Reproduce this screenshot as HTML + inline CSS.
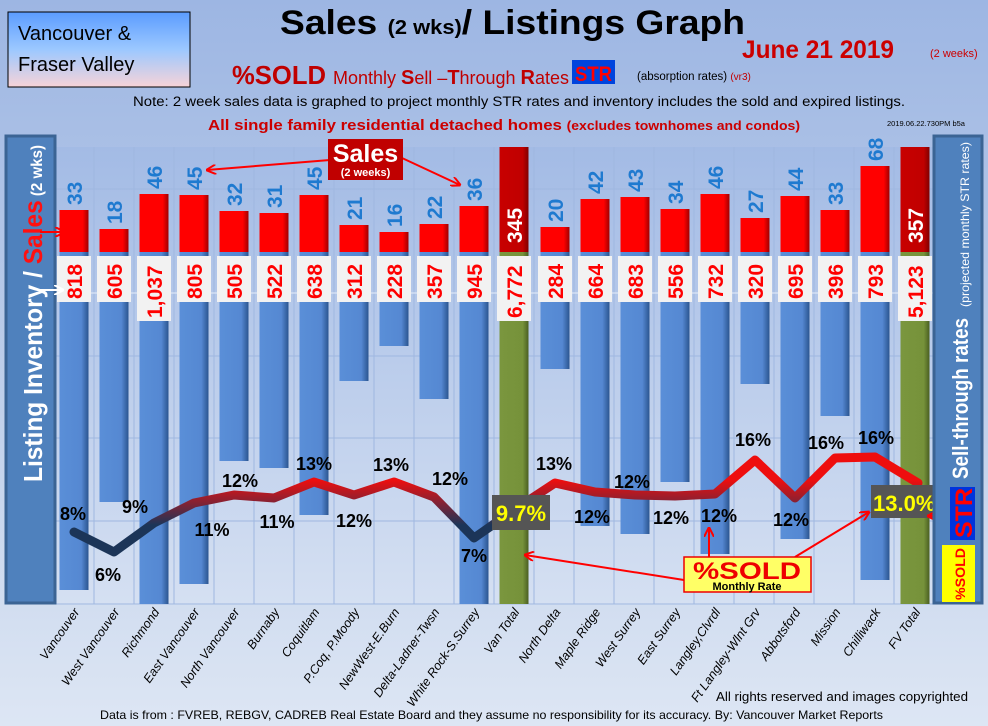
<!DOCTYPE html>
<html><head><meta charset="utf-8"><style>
html,body{margin:0;padding:0;width:988px;height:726px;overflow:hidden;background:#a9c0e6}
svg{display:block}
text{font-family:"Liberation Sans",sans-serif}
</style></head><body>
<svg width="988" height="726" viewBox="0 0 988 726" xmlns="http://www.w3.org/2000/svg">
<defs>
<linearGradient id="bg" x1="0" y1="0" x2="0" y2="1"><stop offset="0" stop-color="#9db6e3"/><stop offset="0.5" stop-color="#bccde9"/><stop offset="1" stop-color="#dde6f4"/></linearGradient>
<linearGradient id="pa" x1="0" y1="0" x2="0" y2="1"><stop offset="0" stop-color="#a3bbe5"/><stop offset="1" stop-color="#d5e0f2"/></linearGradient>
<linearGradient id="bl" x1="0" y1="0" x2="1" y2="0"><stop offset="0" stop-color="#5a8fd8"/><stop offset="0.75" stop-color="#5588d2"/><stop offset="1" stop-color="#2b5590"/></linearGradient>
<linearGradient id="rd" x1="0" y1="0" x2="1" y2="0"><stop offset="0" stop-color="#ff0000"/><stop offset="0.8" stop-color="#ff0000"/><stop offset="1" stop-color="#a00000"/></linearGradient>
<linearGradient id="dr" x1="0" y1="0" x2="1" y2="0"><stop offset="0" stop-color="#c80000"/><stop offset="0.8" stop-color="#c00000"/><stop offset="1" stop-color="#800000"/></linearGradient>
<linearGradient id="gr" x1="0" y1="0" x2="1" y2="0"><stop offset="0" stop-color="#7a963e"/><stop offset="0.8" stop-color="#76923a"/><stop offset="1" stop-color="#4a5f22"/></linearGradient>
<linearGradient id="tb" x1="0" y1="0" x2="0" y2="1"><stop offset="0" stop-color="#5b9cff"/><stop offset="0.5" stop-color="#9cc8ff"/><stop offset="1" stop-color="#f7d3d8"/></linearGradient>
<linearGradient id="ln" gradientUnits="userSpaceOnUse" x1="0" y1="525" x2="0" y2="480"><stop offset="0" stop-color="#1c3558"/><stop offset="1" stop-color="#ee0e0e"/></linearGradient>
<marker id="ar" markerWidth="10" markerHeight="10" refX="9" refY="5" orient="auto" markerUnits="userSpaceOnUse"><path d="M0,0 L10,5 L0,10" fill="none" stroke="#ff0000" stroke-width="2"/></marker>
<marker id="aw" markerWidth="10" markerHeight="10" refX="9" refY="5" orient="auto" markerUnits="userSpaceOnUse"><path d="M0,0 L10,5 L0,10" fill="none" stroke="#fff" stroke-width="2"/></marker>
</defs>
<rect width="988" height="726" fill="url(#bg)"/>
<rect x="56" y="147" width="877" height="458" fill="url(#pa)"/>
<g stroke="#9fb7e0" stroke-width="1">
<line x1="56" y1="189" x2="933" y2="189"/><line x1="56" y1="356" x2="933" y2="356"/><line x1="56" y1="438" x2="933" y2="438"/><line x1="56" y1="521" x2="933" y2="521"/><line x1="56" y1="604" x2="933" y2="604"/>
<line x1="94" y1="147" x2="94" y2="604"/><line x1="134" y1="147" x2="134" y2="604"/><line x1="174" y1="147" x2="174" y2="604"/><line x1="214" y1="147" x2="214" y2="604"/><line x1="254" y1="147" x2="254" y2="604"/><line x1="294" y1="147" x2="294" y2="604"/><line x1="334" y1="147" x2="334" y2="604"/><line x1="374" y1="147" x2="374" y2="604"/><line x1="414" y1="147" x2="414" y2="604"/><line x1="454" y1="147" x2="454" y2="604"/><line x1="494" y1="147" x2="494" y2="604"/><line x1="534" y1="147" x2="534" y2="604"/><line x1="574" y1="147" x2="574" y2="604"/><line x1="614" y1="147" x2="614" y2="604"/><line x1="654" y1="147" x2="654" y2="604"/><line x1="694" y1="147" x2="694" y2="604"/><line x1="734" y1="147" x2="734" y2="604"/><line x1="774" y1="147" x2="774" y2="604"/><line x1="814" y1="147" x2="814" y2="604"/><line x1="854" y1="147" x2="854" y2="604"/><line x1="894" y1="147" x2="894" y2="604"/>
</g>
<line x1="56" y1="293" x2="933" y2="293" stroke="#e6eef9" stroke-width="1"/>

<g font-weight="bold" font-size="21">
<g transform="translate(74,0)"><rect x="-14.5" y="252" width="29" height="338" fill="url(#bl)"/><rect x="-14.5" y="210" width="29" height="42" fill="url(#rd)"/><text transform="translate(8,205) rotate(-90)" fill="#1f7ad0">33</text><rect x="-17" y="256" width="34" height="46" fill="#f2f2f2"/><text transform="translate(8,299) rotate(-90)" fill="#f00">818</text></g>
<g transform="translate(114,0)"><rect x="-14.5" y="252" width="29" height="250" fill="url(#bl)"/><rect x="-14.5" y="229" width="29" height="23" fill="url(#rd)"/><text transform="translate(8,224) rotate(-90)" fill="#1f7ad0">18</text><rect x="-17" y="256" width="34" height="46" fill="#f2f2f2"/><text transform="translate(8,299) rotate(-90)" fill="#f00">605</text></g>
<g transform="translate(154,0)"><rect x="-14.5" y="252" width="29" height="352" fill="url(#bl)"/><rect x="-14.5" y="194" width="29" height="58" fill="url(#rd)"/><text transform="translate(8,189) rotate(-90)" fill="#1f7ad0">46</text><rect x="-17" y="256" width="34" height="65" fill="#f2f2f2"/><text transform="translate(8,318) rotate(-90)" fill="#f00">1,037</text></g>
<g transform="translate(194,0)"><rect x="-14.5" y="252" width="29" height="332" fill="url(#bl)"/><rect x="-14.5" y="195" width="29" height="57" fill="url(#rd)"/><text transform="translate(8,190) rotate(-90)" fill="#1f7ad0">45</text><rect x="-17" y="256" width="34" height="46" fill="#f2f2f2"/><text transform="translate(8,299) rotate(-90)" fill="#f00">805</text></g>
<g transform="translate(234,0)"><rect x="-14.5" y="252" width="29" height="209" fill="url(#bl)"/><rect x="-14.5" y="211" width="29" height="41" fill="url(#rd)"/><text transform="translate(8,206) rotate(-90)" fill="#1f7ad0">32</text><rect x="-17" y="256" width="34" height="46" fill="#f2f2f2"/><text transform="translate(8,299) rotate(-90)" fill="#f00">505</text></g>
<g transform="translate(274,0)"><rect x="-14.5" y="252" width="29" height="216" fill="url(#bl)"/><rect x="-14.5" y="213" width="29" height="39" fill="url(#rd)"/><text transform="translate(8,208) rotate(-90)" fill="#1f7ad0">31</text><rect x="-17" y="256" width="34" height="46" fill="#f2f2f2"/><text transform="translate(8,299) rotate(-90)" fill="#f00">522</text></g>
<g transform="translate(314,0)"><rect x="-14.5" y="252" width="29" height="263" fill="url(#bl)"/><rect x="-14.5" y="195" width="29" height="57" fill="url(#rd)"/><text transform="translate(8,190) rotate(-90)" fill="#1f7ad0">45</text><rect x="-17" y="256" width="34" height="46" fill="#f2f2f2"/><text transform="translate(8,299) rotate(-90)" fill="#f00">638</text></g>
<g transform="translate(354,0)"><rect x="-14.5" y="252" width="29" height="129" fill="url(#bl)"/><rect x="-14.5" y="225" width="29" height="27" fill="url(#rd)"/><text transform="translate(8,220) rotate(-90)" fill="#1f7ad0">21</text><rect x="-17" y="256" width="34" height="46" fill="#f2f2f2"/><text transform="translate(8,299) rotate(-90)" fill="#f00">312</text></g>
<g transform="translate(394,0)"><rect x="-14.5" y="252" width="29" height="94" fill="url(#bl)"/><rect x="-14.5" y="232" width="29" height="20" fill="url(#rd)"/><text transform="translate(8,227) rotate(-90)" fill="#1f7ad0">16</text><rect x="-17" y="256" width="34" height="46" fill="#f2f2f2"/><text transform="translate(8,299) rotate(-90)" fill="#f00">228</text></g>
<g transform="translate(434,0)"><rect x="-14.5" y="252" width="29" height="147" fill="url(#bl)"/><rect x="-14.5" y="224" width="29" height="28" fill="url(#rd)"/><text transform="translate(8,219) rotate(-90)" fill="#1f7ad0">22</text><rect x="-17" y="256" width="34" height="46" fill="#f2f2f2"/><text transform="translate(8,299) rotate(-90)" fill="#f00">357</text></g>
<g transform="translate(474,0)"><rect x="-14.5" y="252" width="29" height="352" fill="url(#bl)"/><rect x="-14.5" y="206" width="29" height="46" fill="url(#rd)"/><text transform="translate(8,201) rotate(-90)" fill="#1f7ad0">36</text><rect x="-17" y="256" width="34" height="46" fill="#f2f2f2"/><text transform="translate(8,299) rotate(-90)" fill="#f00">945</text></g>
<g transform="translate(514,0)"><rect x="-14.5" y="252" width="29" height="352" fill="url(#gr)"/><rect x="-14.5" y="147" width="29" height="105" fill="url(#dr)"/><text transform="translate(8,243) rotate(-90)" fill="#fff">345</text><rect x="-17" y="256" width="34" height="65" fill="#f2f2f2"/><text transform="translate(8,318) rotate(-90)" fill="#f00">6,772</text></g>
<g transform="translate(555,0)"><rect x="-14.5" y="252" width="29" height="117" fill="url(#bl)"/><rect x="-14.5" y="227" width="29" height="25" fill="url(#rd)"/><text transform="translate(8,222) rotate(-90)" fill="#1f7ad0">20</text><rect x="-17" y="256" width="34" height="46" fill="#f2f2f2"/><text transform="translate(8,299) rotate(-90)" fill="#f00">284</text></g>
<g transform="translate(595,0)"><rect x="-14.5" y="252" width="29" height="274" fill="url(#bl)"/><rect x="-14.5" y="199" width="29" height="53" fill="url(#rd)"/><text transform="translate(8,194) rotate(-90)" fill="#1f7ad0">42</text><rect x="-17" y="256" width="34" height="46" fill="#f2f2f2"/><text transform="translate(8,299) rotate(-90)" fill="#f00">664</text></g>
<g transform="translate(635,0)"><rect x="-14.5" y="252" width="29" height="282" fill="url(#bl)"/><rect x="-14.5" y="197" width="29" height="55" fill="url(#rd)"/><text transform="translate(8,192) rotate(-90)" fill="#1f7ad0">43</text><rect x="-17" y="256" width="34" height="46" fill="#f2f2f2"/><text transform="translate(8,299) rotate(-90)" fill="#f00">683</text></g>
<g transform="translate(675,0)"><rect x="-14.5" y="252" width="29" height="230" fill="url(#bl)"/><rect x="-14.5" y="209" width="29" height="43" fill="url(#rd)"/><text transform="translate(8,204) rotate(-90)" fill="#1f7ad0">34</text><rect x="-17" y="256" width="34" height="46" fill="#f2f2f2"/><text transform="translate(8,299) rotate(-90)" fill="#f00">556</text></g>
<g transform="translate(715,0)"><rect x="-14.5" y="252" width="29" height="302" fill="url(#bl)"/><rect x="-14.5" y="194" width="29" height="58" fill="url(#rd)"/><text transform="translate(8,189) rotate(-90)" fill="#1f7ad0">46</text><rect x="-17" y="256" width="34" height="46" fill="#f2f2f2"/><text transform="translate(8,299) rotate(-90)" fill="#f00">732</text></g>
<g transform="translate(755,0)"><rect x="-14.5" y="252" width="29" height="132" fill="url(#bl)"/><rect x="-14.5" y="218" width="29" height="34" fill="url(#rd)"/><text transform="translate(8,213) rotate(-90)" fill="#1f7ad0">27</text><rect x="-17" y="256" width="34" height="46" fill="#f2f2f2"/><text transform="translate(8,299) rotate(-90)" fill="#f00">320</text></g>
<g transform="translate(795,0)"><rect x="-14.5" y="252" width="29" height="287" fill="url(#bl)"/><rect x="-14.5" y="196" width="29" height="56" fill="url(#rd)"/><text transform="translate(8,191) rotate(-90)" fill="#1f7ad0">44</text><rect x="-17" y="256" width="34" height="46" fill="#f2f2f2"/><text transform="translate(8,299) rotate(-90)" fill="#f00">695</text></g>
<g transform="translate(835,0)"><rect x="-14.5" y="252" width="29" height="164" fill="url(#bl)"/><rect x="-14.5" y="210" width="29" height="42" fill="url(#rd)"/><text transform="translate(8,205) rotate(-90)" fill="#1f7ad0">33</text><rect x="-17" y="256" width="34" height="46" fill="#f2f2f2"/><text transform="translate(8,299) rotate(-90)" fill="#f00">396</text></g>
<g transform="translate(875,0)"><rect x="-14.5" y="252" width="29" height="328" fill="url(#bl)"/><rect x="-14.5" y="166" width="29" height="86" fill="url(#rd)"/><text transform="translate(8,161) rotate(-90)" fill="#1f7ad0">68</text><rect x="-17" y="256" width="34" height="46" fill="#f2f2f2"/><text transform="translate(8,299) rotate(-90)" fill="#f00">793</text></g>
<g transform="translate(915,0)"><rect x="-14.5" y="252" width="29" height="352" fill="url(#gr)"/><rect x="-14.5" y="147" width="29" height="105" fill="url(#dr)"/><text transform="translate(8,243) rotate(-90)" fill="#fff">357</text><rect x="-17" y="256" width="34" height="65" fill="#f2f2f2"/><text transform="translate(8,318) rotate(-90)" fill="#f00">5,123</text></g>
</g>

<polyline points="74,532 114,552 154,523 194,503 234,495 274,498 314,482 354,495 394,482 434,497 474,538 514,510 555,483 595,492 635,495 675,496 715,494 755,460 795,498 835,458 875,457 918,483" fill="none" stroke="url(#ln)" stroke-width="9" stroke-linejoin="round" stroke-linecap="round"/>
<g font-weight="bold" font-size="18" fill="#000" text-anchor="middle">
<text x="73" y="520">8%</text><text x="108" y="581">6%</text><text x="135" y="513">9%</text><text x="212" y="536">11%</text><text x="240" y="487">12%</text><text x="277" y="528">11%</text><text x="314" y="470">13%</text><text x="354" y="527">12%</text><text x="391" y="471">13%</text><text x="450" y="485">12%</text><text x="474" y="562">7%</text>
<text x="554" y="470">13%</text><text x="592" y="523">12%</text><text x="632" y="488">12%</text><text x="671" y="524">12%</text><text x="719" y="522">12%</text><text x="753" y="446">16%</text><text x="791" y="526">12%</text><text x="826" y="449">16%</text><text x="876" y="444">16%</text>
</g>
<rect x="492" y="495" width="58" height="35" fill="#555"/>
<text x="521" y="521" font-weight="bold" font-size="22" fill="#ffff00" text-anchor="middle">9.7%</text>
<rect x="871" y="485" width="62" height="33" fill="#555"/>
<text x="873" y="511" font-weight="bold" font-size="22" fill="#ffff00">13.0%</text>

<line x1="330" y1="160" x2="207" y2="170" stroke="#f00" stroke-width="2" marker-end="url(#ar)"/>
<line x1="402" y1="158" x2="460" y2="185" stroke="#f00" stroke-width="2" marker-end="url(#ar)"/>
<rect x="328" y="139" width="75" height="41" fill="#c00000"/>
<text x="365.5" y="162" font-weight="bold" font-size="25" fill="#fff" text-anchor="middle">Sales</text>
<text x="365.5" y="176" font-weight="bold" font-size="11" fill="#fff" text-anchor="middle">(2 weeks)</text>

<line x1="684" y1="580" x2="525" y2="555" stroke="#f00" stroke-width="2" marker-end="url(#ar)"/>
<line x1="709" y1="557" x2="709" y2="528" stroke="#f00" stroke-width="2" marker-end="url(#ar)"/>
<line x1="795" y1="557" x2="869" y2="512" stroke="#f00" stroke-width="2" marker-end="url(#ar)"/>
<line x1="952" y1="516" x2="928" y2="516" stroke="#f00" stroke-width="2" marker-end="url(#ar)"/>
<rect x="684" y="557" width="127" height="35" fill="#ffff66" stroke="#e00" stroke-width="1.5"/>
<text x="693" y="579" font-weight="bold" font-size="24" fill="#e00" textLength="108" lengthAdjust="spacingAndGlyphs">%SOLD</text>
<text x="747" y="590" font-weight="bold" font-size="11" fill="#000" text-anchor="middle">Monthly Rate</text>

<rect x="6" y="136" width="49" height="467" fill="#4f81bd" stroke="#3b6494" stroke-width="3"/>
<text transform="translate(42,482) rotate(-90)" font-weight="bold" font-size="26" fill="#fff" textLength="337" lengthAdjust="spacingAndGlyphs">Listing Inventory / <tspan fill="#ff1010">Sales</tspan><tspan font-size="16"> (2  wks)</tspan></text>
<line x1="40" y1="232" x2="64" y2="232" stroke="#f00" stroke-width="2" marker-end="url(#ar)"/>
<line x1="40" y1="290" x2="63" y2="290" stroke="#fff" stroke-width="2" marker-end="url(#aw)"/>

<rect x="934" y="136" width="48" height="467" fill="#4f81bd" stroke="#3b6494" stroke-width="3"/>
<text transform="translate(968,479) rotate(-90)" font-weight="bold" font-size="22" fill="#fff" textLength="161" lengthAdjust="spacingAndGlyphs">Sell-through rates</text>
<text transform="translate(969,307) rotate(-90)" font-size="12" fill="#fff" textLength="165" lengthAdjust="spacingAndGlyphs">(projected monthly STR rates)</text>
<rect x="950" y="487" width="25" height="53" fill="#0033dd"/>
<text transform="translate(972,538) rotate(-90)" font-weight="bold" font-size="24" fill="#ff0000" textLength="50" lengthAdjust="spacingAndGlyphs">STR</text>
<rect x="942" y="545" width="33" height="57" fill="#ffff00"/>
<text transform="translate(965,600) rotate(-90)" font-weight="bold" font-size="14" fill="#ff0000" textLength="52" lengthAdjust="spacingAndGlyphs">%SOLD</text>

<g font-style="italic" font-size="12.5" fill="#000" text-anchor="end">
<text transform="translate(80,612) rotate(-55)">Vancouver</text>
<text transform="translate(120,612) rotate(-55)">West Vancouver</text>
<text transform="translate(160,612) rotate(-55)">Richmond</text>
<text transform="translate(200,612) rotate(-55)">East Vancouver</text>
<text transform="translate(240,612) rotate(-55)">North Vancouver</text>
<text transform="translate(280,612) rotate(-55)">Burnaby</text>
<text transform="translate(320,612) rotate(-55)">Coquitlam</text>
<text transform="translate(360,612) rotate(-55)">P.Coq, P.Moody</text>
<text transform="translate(400,612) rotate(-55)">NewWest-E.Burn</text>
<text transform="translate(440,612) rotate(-55)">Delta-Ladner-Twsn</text>
<text transform="translate(480,612) rotate(-55)">White Rock-S.Surrey</text>
<text transform="translate(520,612) rotate(-55)">Van Total</text>
<text transform="translate(561,612) rotate(-55)">North Delta</text>
<text transform="translate(601,612) rotate(-55)">Maple Ridge</text>
<text transform="translate(641,612) rotate(-55)">West Surrey</text>
<text transform="translate(681,612) rotate(-55)">East Surrey</text>
<text transform="translate(721,612) rotate(-55)">Langley,Clvrdl</text>
<text transform="translate(761,612) rotate(-55)">Ft Langley-Wlnt Grv</text>
<text transform="translate(801,612) rotate(-55)">Abbotsford</text>
<text transform="translate(841,612) rotate(-55)">Mission</text>
<text transform="translate(881,612) rotate(-55)">Chilliwack</text>
<text transform="translate(921,612) rotate(-55)">FV Total</text>
</g>

<rect x="8" y="12" width="182" height="75" fill="url(#tb)" stroke="#000" stroke-width="1"/>
<text x="18" y="40" font-size="20" fill="#000">Vancouver &amp;</text>
<text x="18" y="71" font-size="20" fill="#000">Fraser Valley</text>
<text x="280" y="34" font-weight="bold" font-size="34" fill="#000" textLength="465" lengthAdjust="spacingAndGlyphs">Sales <tspan font-size="20">(2 wks)</tspan>/ Listings Graph</text>
<text x="742" y="58" font-weight="bold" font-size="25" fill="#cc0000" textLength="152" lengthAdjust="spacingAndGlyphs">June 21 2019</text>
<text x="930" y="57" font-size="11" fill="#cc0000">(2 weeks)</text>
<text x="232" y="84" font-weight="bold" font-size="26" fill="#c00000" textLength="94" lengthAdjust="spacingAndGlyphs">%SOLD</text>
<text x="333" y="84" font-size="18" fill="#c00000" textLength="236" lengthAdjust="spacingAndGlyphs">Monthly <tspan font-weight="bold" font-size="20">S</tspan>ell –<tspan font-weight="bold" font-size="20">T</tspan>hrough <tspan font-weight="bold" font-size="20">R</tspan>ates</text>
<rect x="572" y="60" width="43" height="24" fill="#0044dd"/>
<text x="575" y="81" font-weight="bold" font-size="21" fill="#ff0000" textLength="37" lengthAdjust="spacingAndGlyphs">STR</text>
<text x="637" y="80" font-size="11.5" fill="#000">(absorption rates) <tspan fill="#c00000" font-size="10">(vr3)</tspan></text>
<text x="519" y="106" font-size="13.5" fill="#000" text-anchor="middle" textLength="772" lengthAdjust="spacingAndGlyphs">Note: 2 week sales data is graphed to project monthly STR rates and inventory includes the sold and expired listings.</text>
<text x="208" y="130" font-weight="bold" font-size="15" fill="#cc0000" textLength="592" lengthAdjust="spacingAndGlyphs">All single family residential detached homes <tspan font-size="12.5">(excludes townhomes and condos)</tspan></text>
<text x="887" y="126" font-size="7.5" fill="#000">2019.06.22.730PM b5a</text>

<text x="716" y="701" font-size="12.5" fill="#000" textLength="252" lengthAdjust="spacingAndGlyphs">All rights reserved and  images copyrighted</text>
<text x="100" y="719" font-size="12" fill="#000" textLength="783" lengthAdjust="spacingAndGlyphs">Data is from : FVREB, REBGV, CADREB Real Estate Board and they assume no responsibility for its accuracy. By: Vancouver Market Reports</text>
</svg>
</body></html>
